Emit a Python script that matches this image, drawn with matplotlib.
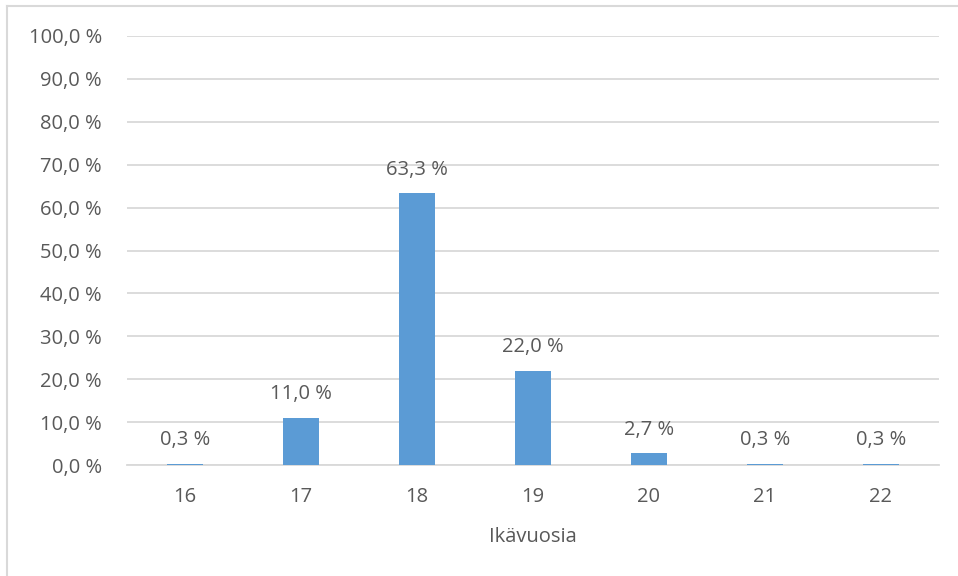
import matplotlib.pyplot as plt
from matplotlib.lines import Line2D
import numpy as np

# data
ages = ["16", "17", "18", "19", "20", "21", "22"]
shares = [0.3, 11.0, 63.3, 22.0, 2.7, 0.3, 0.3]
yticks = [0, 10, 20, 30, 40, 50, 60, 70, 80, 90, 100]

text_col = "#595959"
grid_col = "#D9D9D9"
bar_col = "#5B9BD5"

plt.rcParams['font.family'] = ['Open Sans', 'DejaVu Sans']

fig = plt.figure(figsize=(9.58, 5.76), dpi=100)
ax = fig.add_axes([127 / 958, 1 - 465 / 576, (939 - 127) / 958, (465 - 36) / 576])

x = np.arange(len(ages))
bars = ax.bar(x, shares, width=0.31, color=bar_col, zorder=3)

for xi, v in zip(x, shares):
    ax.annotate(f"{v:.1f} %".replace(".", ","), (xi, v), xytext=(0, 10),
                textcoords="offset points", ha="center", va="bottom",
                fontsize=14.5, color=text_col)

ax.set_xlim(-0.5, len(ages) - 0.5)
ax.set_ylim(0, 100)
ax.set_yticks(yticks)
ax.set_yticklabels([f"{t:.1f} %".replace(".", ",") for t in yticks])
ax.set_xticks(x)
ax.set_xticklabels(ages)
ax.tick_params(axis="y", length=0, pad=18, labelsize=14.5, labelcolor=text_col)
ax.tick_params(axis="x", length=0, pad=16, labelsize=14.5, labelcolor=text_col)
ax.grid(axis="y", color=grid_col, linewidth=1.3, zorder=0)
for s in ["top", "right", "left"]:
    ax.spines[s].set_visible(False)
ax.spines["bottom"].set_color(grid_col)
ax.spines["bottom"].set_linewidth(1.3)

ax.set_xlabel("Ikävuosia", fontsize=14.5, color=text_col, labelpad=14)

# chart border (only top and left visible in the crop)
fig.add_artist(Line2D([7 / 958, 7 / 958], [0, 1 - 6 / 576], transform=fig.transFigure,
                      color=grid_col, linewidth=1.5))
fig.add_artist(Line2D([7 / 958, 1], [1 - 6 / 576, 1 - 6 / 576], transform=fig.transFigure,
                      color=grid_col, linewidth=1.5))

fig.savefig("out.png", dpi=100)
